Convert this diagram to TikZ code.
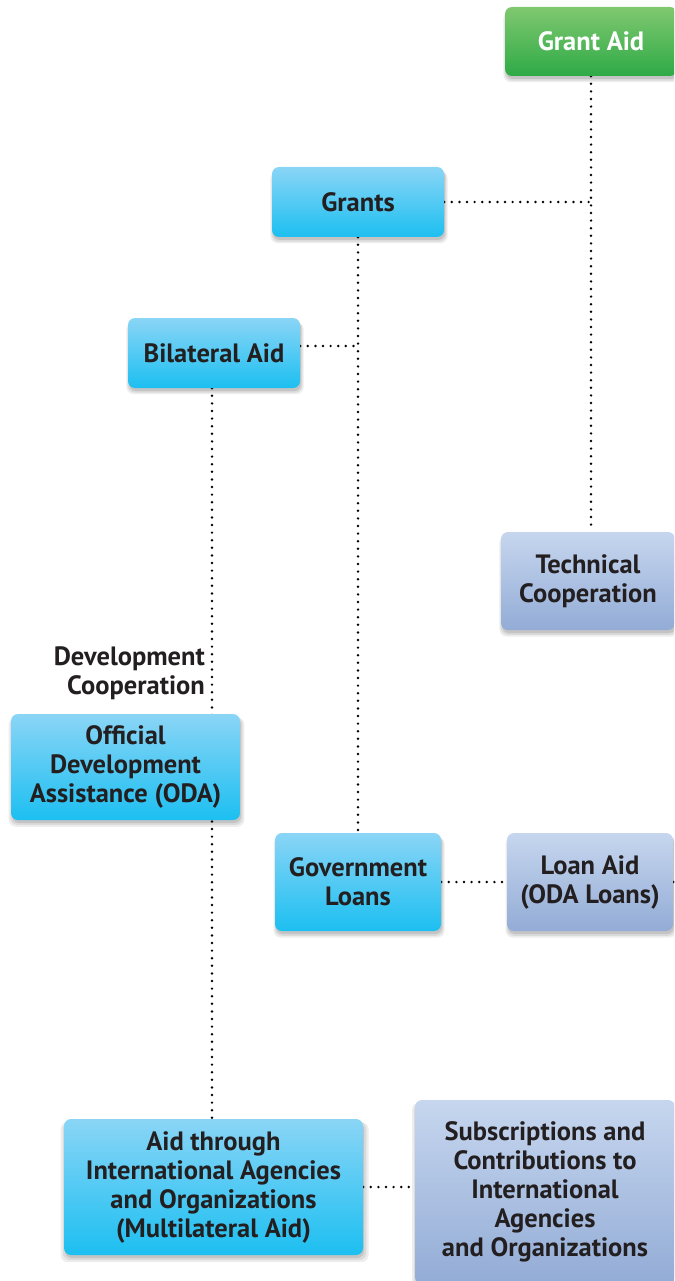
\documentclass[tikz,border=0pt]{standalone}
\usepackage{fontspec}
\setmainfont{PT Sans}
\usetikzlibrary{shadows,backgrounds}
\definecolor{txt}{HTML}{231F20}
\definecolor{bluetop}{HTML}{8AD5F6}
\definecolor{bluebot}{HTML}{1CBFF1}
\definecolor{lavtop}{HTML}{C6D6EE}
\definecolor{lavbot}{HTML}{93ACD6}
\definecolor{grntop}{HTML}{80C870}
\definecolor{grnbot}{HTML}{2EAA46}
\tikzset{
  softshadow/.style={
    general shadow={fill=black, opacity=0.07, shadow xshift=1pt, shadow yshift=-5pt, shadow scale=1.03},
    general shadow={fill=black, opacity=0.08, shadow xshift=1pt, shadow yshift=-4pt, shadow scale=1.015},
    general shadow={fill=black, opacity=0.10, shadow xshift=1pt, shadow yshift=-3pt}},
  basebox/.style={rounded corners=7pt, align=center, inner sep=0pt, text=txt,
    font=\bfseries\fontsize{26.5}{29}\selectfont, softshadow},
  bluebox/.style={basebox, top color=bluetop, bottom color=bluebot},
  lavbox/.style={basebox, top color=lavtop, bottom color=lavbot},
  grnbox/.style={basebox, top color=grntop, bottom color=grnbot, text=white},
  dotline/.style={draw=black, line width=2.7pt, line cap=round, dash pattern=on 0pt off 7.6pt},
  lbl/.style={align=right, text=txt, inner sep=0pt, font=\bfseries\fontsize{26.5}{29}\selectfont}
}
\begin{document}
\begin{tikzpicture}[x=1pt,y=-1pt]
\useasboundingbox (0,0) rectangle (674,1281);
\clip (0,0) rectangle (674,1281);
\node[grnbox, minimum width=172pt, minimum height=69pt] (grantaid) at (591,41.5) {Grant Aid};
\node[bluebox, minimum width=172pt, minimum height=70pt] (grants) at (358,202) {Grants};
\node[bluebox, minimum width=172pt, minimum height=70pt] (bilateral) at (214,353) {Bilateral Aid};
\node[lavbox, minimum width=174pt, minimum height=98pt] (techcoop) at (588,581) {Technical\\Cooperation};
\node[lbl, anchor=east] (devcoop) at (205,673) {Development\\Cooperation};
\node[bluebox, minimum width=229pt, minimum height=106pt] (oda) at (125.5,767) {Official\\Development\\Assistance (ODA)};
\node[bluebox, minimum width=166pt, minimum height=98pt] (govloans) at (358,882) {Government\\Loans};
\node[lavbox, minimum width=166pt, minimum height=98pt] (loanaid) at (590,882) {Loan Aid\\(ODA Loans)};
\node[bluebox, minimum width=299pt, minimum height=136pt] (multi) at (213.5,1187) {Aid through\\International Agencies\\and Organizations\\(Multilateral Aid)};
\node[lavbox, minimum width=260pt, minimum height=184pt] (subs) at (545,1192) {Subscriptions and\\Contributions to\\International\\Agencies\\and Organizations};
\coordinate (loanout) at (700,884);
\begin{scope}[on background layer]
\draw[dotline] (grantaid.south) -- (grantaid.south |- techcoop.north);
\draw[dotline] (grants.east) -- (grants.east -| grantaid.south);
\draw[dotline] (grants.south) -- (govloans.north);
\draw[dotline] ([yshift=7pt]bilateral.east) -- ([yshift=7pt]bilateral.east -| grants.south);
\draw[dotline] ([xshift=-2pt]bilateral.south) -- ([xshift=-2pt]bilateral.south |- multi.north);
\draw[dotline] (govloans.east) -- (loanaid.west);
\draw[dotline] (loanaid.east) -- (loanout);
\draw[dotline] (multi.east) -- (multi.east -| subs.west);
\end{scope}
\end{tikzpicture}
\end{document}
